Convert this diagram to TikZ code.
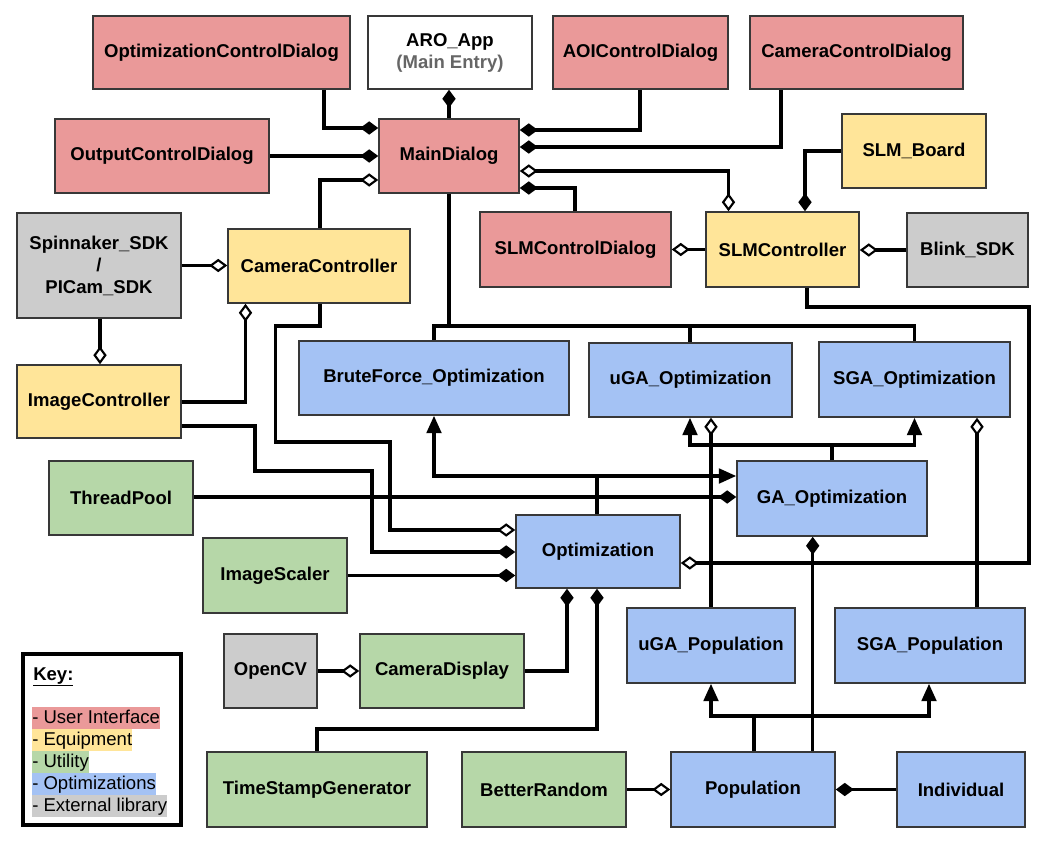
\documentclass[tikz,border=0pt]{standalone}
\usepackage{fontspec}
\setmainfont{Liberation Sans}
\usetikzlibrary{arrows.meta}
\definecolor{cred}{HTML}{EA9999}
\definecolor{cyel}{HTML}{FFE599}
\definecolor{cgrn}{HTML}{B6D7A8}
\definecolor{cblu}{HTML}{A4C2F4}
\definecolor{cgry}{HTML}{CCCCCC}
\definecolor{cbrd}{HTML}{383838}
\definecolor{ctxg}{HTML}{666666}
\tikzset{
  box/.style={draw=cbrd, line width=1.2pt, inner sep=0pt, align=center,
    font=\fontsize{13.9pt}{16.5pt}\selectfont\bfseries},
  conn/.style={line width=2.3pt, black},
  fdia/.tip={Diamond[length=13.5pt,width=10pt]},
  odia/.tip={Diamond[length=13.5pt,width=10pt,fill=white,line width=1.6pt]},
  tri/.tip={Triangle[length=13pt,width=11pt]},
  keyitem/.style={anchor=west, inner sep=0pt, minimum height=16.5pt,
    text height=10.5pt, text depth=3pt, font=\fontsize{13.9pt}{16.5pt}\selectfont}
}
\newcommand\bx[7]{\node[box,#6,minimum width={(#4-#2)*0.75pt},minimum height={(#5-#3)*0.75pt}] (#1) at ({(#2+#4)/2},{(#3+#5)/2+1}) {#7};}
\begin{document}
\begin{tikzpicture}[x=0.75pt,y=-0.75pt]
\fill[white] (0,0) rectangle (1043,842);
\useasboundingbox (0,0) rectangle (1043,842);
% boxes
\bx{ocd}{93}{15}{350}{88}{fill=cred}{OptimizationControlDialog}
\bx{aro}{368}{15}{532}{88}{fill=white}{ARO\_App\\\textcolor{ctxg}{(Main Entry)}}
\bx{aoi}{553}{15}{728}{88}{fill=cred}{AOIControlDialog}
\bx{ccd}{750}{15}{963}{88}{fill=cred}{CameraControlDialog}
\bx{odlg}{55}{118}{269}{192}{fill=cred}{OutputControlDialog}
\bx{main}{379}{118}{519}{192}{fill=cred}{MainDialog}
\bx{slmb}{842}{113}{986}{187}{fill=cyel}{SLM\_Board}
\bx{spin}{17}{212}{181}{317}{fill=cgry}{Spinnaker\_SDK\\/\\PICam\_SDK}
\bx{camc}{228}{228}{410}{302}{fill=cyel}{CameraController}
\bx{slmcd}{480}{211}{671}{286}{fill=cred}{SLMControlDialog}
\bx{slmc}{706}{211}{859}{286}{fill=cyel}{SLMController}
\bx{blink}{907}{212}{1028}{286}{fill=cgry}{Blink\_SDK}
\bx{bf}{299}{340}{569}{414}{fill=cblu}{BruteForce\_Optimization}
\bx{uga}{589}{342}{792}{416}{fill=cblu}{uGA\_Optimization}
\bx{sga}{819}{341}{1010}{416}{fill=cblu}{SGA\_Optimization}
\bx{imgc}{17}{364}{181}{437}{fill=cyel}{ImageController}
\bx{tp}{49}{460}{193}{534}{fill=cgrn}{ThreadPool}
\bx{ga}{737}{460}{927}{535}{fill=cblu}{GA\_Optimization}
\bx{opt}{516}{514}{680}{587}{fill=cblu}{Optimization}
\bx{isc}{203}{537}{347}{612}{fill=cgrn}{ImageScaler}
\bx{ocv}{224}{633}{317}{707}{fill=cgry}{OpenCV}
\bx{cd}{360}{633}{524}{707}{fill=cgrn}{CameraDisplay}
\bx{ugap}{627}{607}{795}{682}{fill=cblu}{uGA\_Population}
\bx{sgap}{835}{607}{1025}{682}{fill=cblu}{SGA\_Population}
\bx{tsg}{207}{751}{427}{826}{fill=cgrn}{TimeStampGenerator}
\bx{br}{462}{751}{626}{826}{fill=cgrn}{BetterRandom}
\bx{pop}{671}{751}{835}{826}{fill=cblu}{Population}
\bx{ind}{897}{751}{1025}{826}{fill=cblu}{Individual}
% key
\node[draw=black, line width=2.3pt, inner sep=0pt, minimum width={158*0.75pt}, minimum height={171*0.75pt}] (key) at (102,739.5) {};
\node[keyitem, font=\fontsize{13.9pt}{16.5pt}\selectfont\bfseries] (keyt) at (33,675) {\underline{Key:}};
\node[keyitem, fill=cred] (k1) at (32,718) {- User Interface};
\node[keyitem, fill=cyel] (k2) at (32,740) {- Equipment};
\node[keyitem, fill=cgrn] (k3) at (32,762) {- Utility};
\node[keyitem, fill=cblu] (k4) at (32,784) {- Optimizations};
\node[keyitem, fill=cgry] (k5) at (32,806) {- External library};
% connectors
\draw[conn,-fdia] (ocd.south -| 324,0) |- (main.west |- 0,128);
\draw[conn,-fdia] (odlg.east) -- (main.west);
\draw[conn,-odia] (camc.north -| 320,0) |- (main.west |- 0,180);
\draw[conn,-fdia] (main.north -| 449,0) -- (aro.south -| 449,0);
\draw[conn,-fdia] (aoi.south -| 640,0) |- (main.east |- 0,130);
\draw[conn,-fdia] (ccd.south -| 781,0) |- (main.east |- 0,147);
\draw[conn,odia-odia] (main.east |- 0,171) -| (slmc.north -| 728.5,0);
\draw[conn,-fdia] (slmcd.north -| 575,0) |- (main.east |- 0,188);
\draw[conn,-fdia] (slmb.west) -| (slmc.north -| 805,0);
\draw[conn,-odia] (slmc.west) -- (slmcd.east);
\draw[conn,-odia] (blink.west) -- (slmc.east |- blink.west);
\draw[conn,-odia] (spin.east) -- (camc.west |- spin.east);
\draw[conn,-odia] (spin.south -| 100,0) -- (imgc.north -| 100,0);
\draw[conn,-odia] (imgc.east |- 0,402) -| (camc.south -| 245.5,0);
\draw[conn] (main.south -| 449,0) -- (449,326);
\draw[conn] (bf.north -| 434,0) |- (914.5,326) -- (sga.north -| 914.5,0);
\draw[conn] (uga.north -| 690,0) -- (690,326);
\draw[conn,-odia] (camc.south -| 320,0) |- (275.5,326) |- (390,442) |- (opt.west |- 0,530);
\draw[conn,-fdia] (imgc.east |- 0,426) -| (255,471) -| (372,552) -- (opt.west |- 0,552);
\draw[conn,-fdia] (tp.east |- 0,497) -- (ga.west |- 0,497);
\draw[conn,-fdia] (isc.east) -- (opt.west |- isc.east);
\draw[conn,-tri] (opt.north -| 597,0) -- (597,476) -| (bf.south -| 434,0);
\draw[conn,-tri] (opt.north -| 597,0) |- (ga.west |- 0,476);
\draw[conn,-tri] (ga.north -| 832,0) -- (832,445) -| (uga.south -| 690,0);
\draw[conn,-tri] (ga.north -| 832,0) -- (832,445) -| (sga.south -| 914.5,0);
\draw[conn,-odia] (ugap.north -| 711,0) -- (uga.south -| 711,0);
\draw[conn,-odia] (sgap.north -| 977,0) -- (sga.south -| 977,0);
\draw[conn,-odia] (slmc.south -| 807,0) |- (1029,307) |- (opt.east |- 0,563);
\draw[conn,-fdia] (pop.north -| 812.7,0) -- (ga.south -| 812.7,0);
\draw[conn,-tri] (pop.north -| 754,0) -- (754,716) -| (ugap.south -| 711,0);
\draw[conn,-tri] (pop.north -| 754,0) -- (754,716) -| (sgap.south -| 929,0);
\draw[conn,-odia] (br.east) -- (pop.west |- br.east);
\draw[conn,-fdia] (ind.west) -- (pop.east |- ind.west);
\draw[conn,-odia] (ocv.east) -- (cd.west |- ocv.east);
\draw[conn,-fdia] (cd.east) -| (opt.south -| 567,0);
\draw[conn,-fdia] (tsg.north -| 317,0) |- (597,729) -- (opt.south -| 597,0);
\end{tikzpicture}
\end{document}
